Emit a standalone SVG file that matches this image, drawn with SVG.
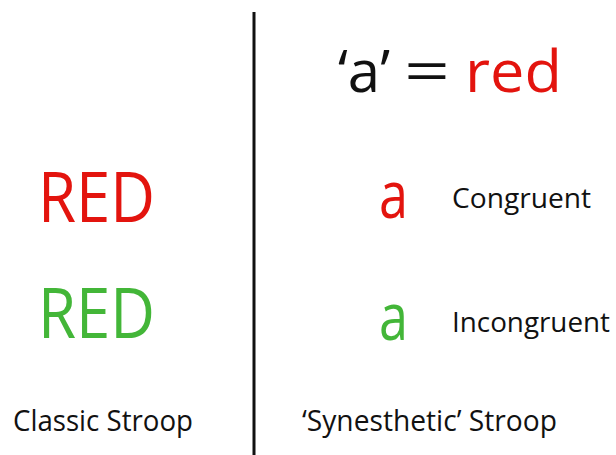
<svg xmlns="http://www.w3.org/2000/svg" width="616" height="455" viewBox="0 0 616 455">
<style>
text { font-family: "Open Sans", "Noto Sans", sans-serif; }
.red { fill: #e3140e; }
.green { fill: #43b638; }
.blk { fill: #111111; }
.lbl { font-size: 27px; fill: #111111; }
.cap { font-size: 29px; fill: #111111; }
</style>
<rect width="616" height="455" fill="#ffffff"/>
<g id="divider">
<line x1="254" y1="12" x2="254" y2="455" stroke="#111111" stroke-width="3"/>
</g>
<g id="header">
<text x="338" y="92" font-size="58" class="blk" textLength="52" lengthAdjust="spacingAndGlyphs">‘a’</text>
<text x="404" y="92" font-size="58" class="blk" textLength="46" lengthAdjust="spacingAndGlyphs">=</text>
<text x="465" y="92" font-size="58" class="red" textLength="97" lengthAdjust="spacingAndGlyphs">red</text>
</g>
<g id="classic-red">
<text x="38" y="222" font-size="70" class="red" textLength="117" lengthAdjust="spacingAndGlyphs">RED</text>
</g>
<g id="classic-green">
<text x="38" y="338" font-size="70" class="green" textLength="117" lengthAdjust="spacingAndGlyphs">RED</text>
</g>
<g id="congruent">
<text x="379" y="218" font-size="66" class="red" textLength="29" lengthAdjust="spacingAndGlyphs">a</text>
<text x="452" y="208" class="lbl" textLength="139" lengthAdjust="spacingAndGlyphs">Congruent</text>
</g>
<g id="incongruent">
<text x="379" y="340" font-size="66" class="green" textLength="29" lengthAdjust="spacingAndGlyphs">a</text>
<text x="452" y="332" class="lbl" textLength="158" lengthAdjust="spacingAndGlyphs">Incongruent</text>
</g>
<g id="label-classic">
<text x="13" y="431" class="cap" textLength="180" lengthAdjust="spacingAndGlyphs">Classic Stroop</text>
</g>
<g id="label-synesthetic">
<text x="302" y="431" class="cap" textLength="255" lengthAdjust="spacingAndGlyphs">‘Synesthetic’ Stroop</text>
</g>
</svg>
